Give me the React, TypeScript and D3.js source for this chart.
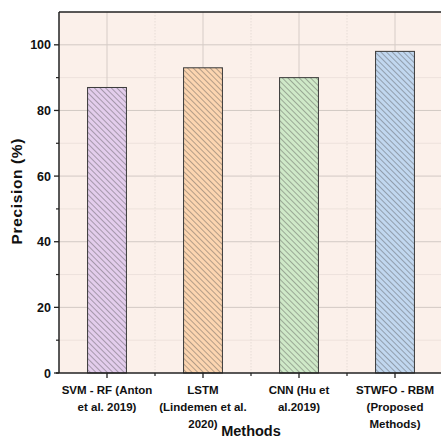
import React from 'react';
import * as d3 from 'd3';

const methods = ['SVM - RF (Anton et al. 2019)', 'LSTM (Lindemen et al. 2020)', 'CNN (Hu et al.2019)', 'STWFO - RBM (Proposed Methods)'];
const methodLines = [
    ['SVM - RF (Anton', 'et al. 2019)'],
    ['LSTM', '(Lindemen et al.', '2020)'],
    ['CNN (Hu et', 'al.2019)'],
    ['STWFO - RBM', '(Proposed', 'Methods)'],
];
const precision = [87, 93, 90, 98];
const barColors = ['#e3cdec', '#fcd5b0', '#cfe9c8', '#c1d7ef'];
const yMajorTicks = [0, 20, 40, 60, 80, 100];
const yMinorTicks = [10, 30, 50, 70, 90, 110];

const W = 441;
const H = 441;
const left = 59;
const right = 443;
const top = 12;
const bottom = 373;

const App = () => {
    const x = d3.scaleBand<string>().domain(methods).range([left, right]).padding(0);
    const y = d3.scaleLinear().domain([0, 110]).range([bottom, top]);
    const bw = x.bandwidth() * 0.405;
    const font = 'Arial, "Liberation Sans", sans-serif';
    const boundaries = methods.slice(1).map(m => x(m)!);

    return (
        <svg width={W} height={H} style={{position: 'absolute', left: 0, top: 0}} fontFamily={font}>
            <defs>
                {barColors.map((c, i) => (
                    <pattern key={i} id={'hatch' + i} patternUnits="userSpaceOnUse" width={4} height={4}
                             patternTransform="rotate(-45)">
                        <rect width={4} height={4} fill={c}/>
                        <line x1={0} y1={0} x2={0} y2={4} stroke="#4a4a4a" strokeWidth={1.1} strokeOpacity={0.75}/>
                    </pattern>
                ))}
            </defs>
            <rect x={0} y={0} width={W} height={H} fill="#ffffff"/>
            <rect x={left} y={top} width={right - left} height={bottom - top} fill="#fbf0ea"/>

            {/* grid */}
            {yMinorTicks.filter(t => t < 110).map(t => (
                <line key={'gm' + t} x1={left} x2={right} y1={y(t)} y2={y(t)} stroke="#ede2dc" strokeWidth={1}/>
            ))}
            {yMajorTicks.filter(t => t > 0).map(t => (
                <line key={'gM' + t} x1={left} x2={right} y1={y(t)} y2={y(t)} stroke="#d2c9c4" strokeWidth={1}/>
            ))}
            {boundaries.map((b, i) => (
                <line key={'vb' + i} x1={b} x2={b} y1={top} y2={bottom} stroke="#e6dcd6" strokeWidth={1}
                      strokeDasharray="1.5,1.5"/>
            ))}
            {methods.map(m => (
                <line key={'vc' + m} x1={x(m)! + x.bandwidth() / 2} x2={x(m)! + x.bandwidth() / 2} y1={top}
                      y2={bottom} stroke="#d6ccc7" strokeWidth={1}/>
            ))}

            {/* bars */}
            {methods.map((m, i) => {
                const cx = x(m)! + x.bandwidth() / 2;
                return (
                    <rect key={'bar' + m} x={cx - bw / 2} y={y(precision[i])} width={bw}
                          height={y(0) - y(precision[i])} fill={`url(#hatch${i})`} stroke="#3a3a3a"
                          strokeWidth={1}/>
                );
            })}

            {/* axes */}
            <line x1={left} x2={right} y1={top} y2={top} stroke="#222" strokeWidth={1.5}/>
            <line x1={left} x2={left} y1={top} y2={bottom} stroke="#222" strokeWidth={1.5}/>
            <line x1={left - 3} x2={right} y1={bottom} y2={bottom} stroke="#222" strokeWidth={1.5}/>
            {yMajorTicks.map(t => (
                <g key={'yt' + t}>
                    <line x1={left - 5} x2={left} y1={y(t)} y2={y(t)} stroke="#222" strokeWidth={1.3}/>
                    <text x={left - 8} y={y(t)} dy="0.36em" textAnchor="end" fontSize={12.5} fontWeight="bold"
                          fill="#111">{t}</text>
                </g>
            ))}
            {yMinorTicks.filter(t => t < 110).map(t => (
                <line key={'ym' + t} x1={left - 3} x2={left} y1={y(t)} y2={y(t)} stroke="#222" strokeWidth={1.2}/>
            ))}
            {methods.map((m, i) => {
                const cx = x(m)! + x.bandwidth() / 2;
                return (
                    <g key={'xt' + m}>
                        <line x1={cx} x2={cx} y1={bottom} y2={bottom + 5} stroke="#222" strokeWidth={1.3}/>
                        {methodLines[i].map((ln, j) => (
                            <text key={j} x={cx} y={bottom + 21 + j * 17} textAnchor="middle" fontSize={11.5}
                                  fontWeight="bold" fill="#111">{ln}</text>
                        ))}
                    </g>
                );
            })}
            {boundaries.map((b, i) => (
                <line key={'xm' + i} x1={b} x2={b} y1={bottom} y2={bottom + 3} stroke="#222" strokeWidth={1.2}/>
            ))}

            <text transform={`translate(${22},${191.5}) rotate(-90)`} textAnchor="middle"
                  fontSize={15.5} fontWeight="bold" fill="#111" textLength={106} lengthAdjust="spacing">Precision (%)</text>
            <text x={251} y={436} textAnchor="middle" fontSize={14.5} fontWeight="bold" fill="#111">Methods</text>
        </svg>
    );
};

export default App;
